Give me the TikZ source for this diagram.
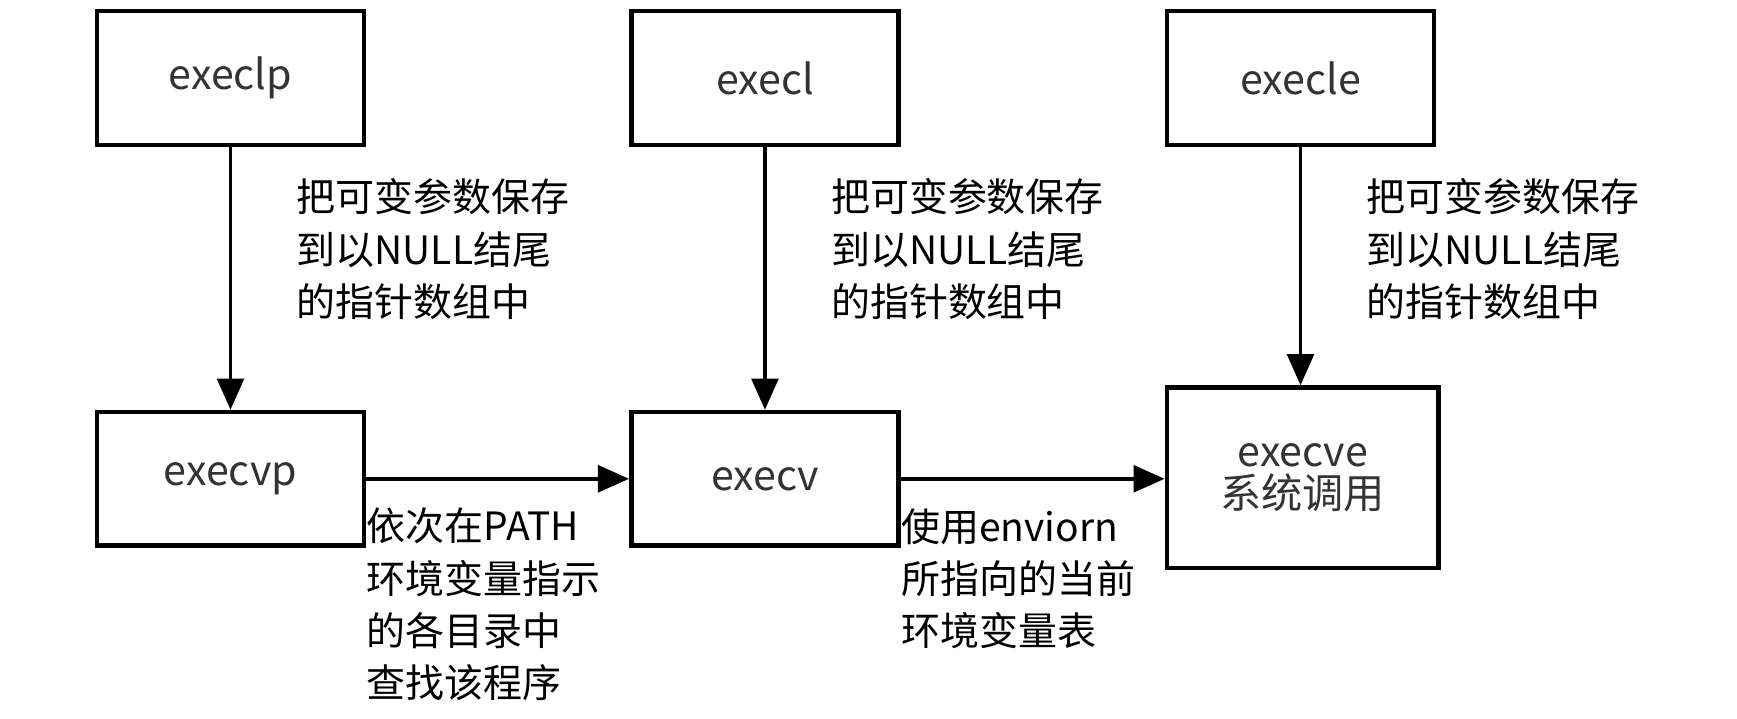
\documentclass[tikz,border=0pt]{standalone}
\usepackage{fontspec}
\setmainfont{Noto Sans CJK SC}
\usetikzlibrary{arrows.meta}
\begin{document}
\begin{tikzpicture}[x=0.5pt,y=-0.5pt,
  box/.style={draw,line width=2pt,minimum width=120pt,minimum height=60pt,font=\fontsize{18.5}{21}\selectfont,text=black!80,align=center,inner sep=0pt},
  lab/.style={anchor=north west,align=left,font=\fontsize{17.5}{23.5}\selectfont,inner sep=0pt},
  arr/.style={line width=1.6pt,-{Triangle[length=14pt,width=12pt]}}]
\useasboundingbox (0,0) rectangle (1560,645);
\node[box] (lp) at (207,70) {execlp};
\node[box] (l) at (687,70) {execl};
\node[box] (le) at (1168,70) {execle};
\node[box] (vp) at (207,430) {execvp};
\node[box] (v) at (687,430) {execv};
\node[box,minimum width=122pt,minimum height=81pt] (ve) at (1170,429) {execve\\[-2pt]系统调用};
\draw[arr] (lp) -- (vp);
\draw[arr] (l) -- (v);
\draw[arr] (le.south) -- (le.south |- ve.north);
\draw[arr] (vp) -- (v);
\draw[arr] (v) -- (v -| ve.west);
\node[lab] (t1) at (266,160) {把可变参数保存\\到以NULL结尾\\的指针数组中};
\node[lab] (t2) at (746,160) {把可变参数保存\\到以NULL结尾\\的指针数组中};
\node[lab] (t3) at (1227,160) {把可变参数保存\\到以NULL结尾\\的指针数组中};
\node[lab] (t4) at (329,456) {依次在PATH\\环境变量指示\\的各目录中\\查找该程序};
\node[lab] (t5) at (809,456) {使用enviorn\\所指向的当前\\环境变量表};
\end{tikzpicture}
\end{document}
